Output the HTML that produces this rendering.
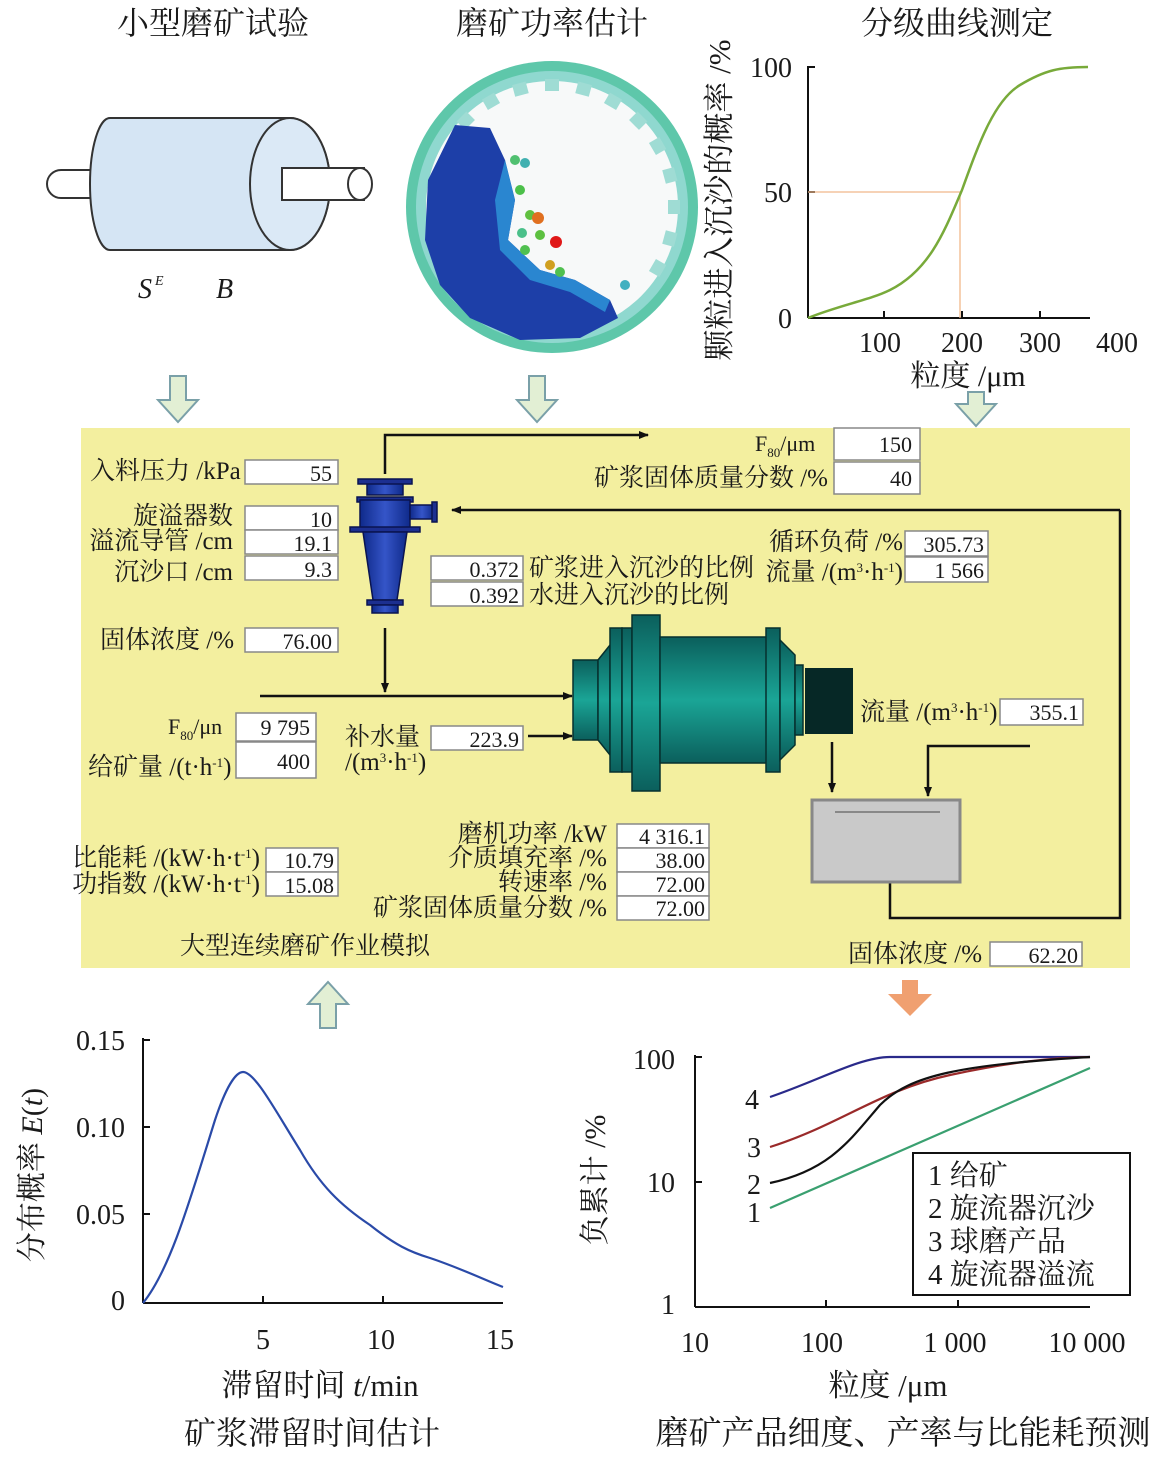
<!DOCTYPE html>
<html><head><meta charset="utf-8"><style>
html,body{margin:0;padding:0;background:#fff}
svg{display:block}
text{font-family:"Liberation Serif","Noto Serif CJK SC",serif;fill:#1a1a1a}
.b{fill:#fff;stroke:#888;stroke-width:1.5}
.L{font-size:25px}
.T{font-size:32px}
</style></head><body>
<svg width="1167" height="1457" viewBox="0 0 1167 1457" xmlns="http://www.w3.org/2000/svg">
<defs>
<marker id="ar" markerWidth="10" markerHeight="8" refX="9" refY="4" orient="auto" markerUnits="userSpaceOnUse"><path d="M0,0 L10,4 L0,8 z" fill="#111"/></marker>
<linearGradient id="tg" x1="0" y1="0" x2="0" y2="1"><stop offset="0" stop-color="#0b5f5c"/><stop offset=".5" stop-color="#1aa596"/><stop offset="1" stop-color="#0b5f5c"/></linearGradient>
<linearGradient id="bg" x1="0" y1="0" x2="1" y2="0"><stop offset="0" stop-color="#0f2a8a"/><stop offset=".5" stop-color="#3555c8"/><stop offset="1" stop-color="#0f2a8a"/></linearGradient>
</defs>
<!-- titles -->
<text x="213" y="34" class="T" text-anchor="middle">小型磨矿试验</text>
<text x="552" y="34" class="T" text-anchor="middle">磨矿功率估计</text>
<text x="957" y="34" class="T" text-anchor="middle">分级曲线测定</text>

<!-- small mill -->
<rect x="47" y="170" width="60" height="28" rx="14" fill="#fff" stroke="#333" stroke-width="2"/>
<path d="M110,118 L290,118 A40,66 0 0 1 290,250 L110,250 A20,66 0 0 1 110,118 z" fill="#d5e5f4" stroke="#333" stroke-width="2"/>
<ellipse cx="290" cy="184" rx="40" ry="66" fill="#dbe9f6" stroke="#333" stroke-width="2"/>
<rect x="282" y="168" width="82" height="32" fill="#fff" stroke="#333" stroke-width="2"/>
<ellipse cx="360" cy="184" rx="12" ry="16" fill="#fff" stroke="#333" stroke-width="2"/>
<text x="138" y="298" font-size="28" font-style="italic">S</text><text x="155" y="285" font-size="14" font-style="italic">E</text>
<text x="216" y="298" font-size="28" font-style="italic">B</text>

<!-- DEM mill -->
<circle cx="552" cy="207" r="146" fill="#5ec7aa"/>
<circle cx="552" cy="207" r="136" fill="#8fd8cf"/>
<circle cx="552" cy="207" r="126" fill="#f7f9f9"/>
<g fill="#9fdcd4">
<rect x="545" y="79" width="14" height="12" transform="rotate(0 552 207)"/>
<rect x="545" y="79" width="14" height="12" transform="rotate(15 552 207)"/>
<rect x="545" y="79" width="14" height="12" transform="rotate(30 552 207)"/>
<rect x="545" y="79" width="14" height="12" transform="rotate(45 552 207)"/>
<rect x="545" y="79" width="14" height="12" transform="rotate(60 552 207)"/>
<rect x="545" y="79" width="14" height="12" transform="rotate(75 552 207)"/>
<rect x="545" y="79" width="14" height="12" transform="rotate(90 552 207)"/>
<rect x="545" y="79" width="14" height="12" transform="rotate(105 552 207)"/>
<rect x="545" y="79" width="14" height="12" transform="rotate(120 552 207)"/>
<rect x="545" y="79" width="14" height="12" transform="rotate(-15 552 207)"/>
<rect x="545" y="79" width="14" height="12" transform="rotate(-30 552 207)"/>
<rect x="545" y="79" width="14" height="12" transform="rotate(-45 552 207)"/>
</g>
<path d="M455,125 L490,128 L505,160 L515,200 L508,240 L540,270 L575,280 L610,300 L618,318 L580,338 L520,340 L470,318 L440,285 L425,240 L428,180 Z" fill="#1d3fa8"/>
<path d="M505,160 L515,200 L508,240 L540,270 L575,280 L610,300 L605,312 L570,292 L530,280 L500,250 L495,200 Z" fill="#2a86d0"/>
<g>
<circle cx="520" cy="190" r="5" fill="#4cc04a"/><circle cx="530" cy="215" r="5" fill="#60c040"/>
<circle cx="538" cy="218" r="6" fill="#e07020"/><circle cx="556" cy="242" r="6" fill="#e01818"/>
<circle cx="540" cy="235" r="5" fill="#5cc040"/><circle cx="550" cy="265" r="5" fill="#d0a020"/>
<circle cx="525" cy="250" r="5" fill="#50c050"/><circle cx="515" cy="160" r="5" fill="#50c070"/>
<circle cx="525" cy="163" r="5" fill="#40b0b0"/><circle cx="625" cy="285" r="5" fill="#40b0c0"/>
<circle cx="560" cy="272" r="5" fill="#50c050"/><circle cx="522" cy="233" r="5" fill="#4ac08a"/>
</g>

<!-- classification curve -->
<line x1="808" y1="66" x2="808" y2="318" stroke="#111" stroke-width="2"/>
<line x1="808" y1="318" x2="1090" y2="318" stroke="#111" stroke-width="2"/>
<g stroke="#111" stroke-width="2"><line x1="808" y1="67" x2="815" y2="67"/><line x1="808" y1="192" x2="815" y2="192"/><line x1="884" y1="318" x2="884" y2="311"/><line x1="962" y1="318" x2="962" y2="311"/><line x1="1040" y1="318" x2="1040" y2="311"/></g>
<polyline points="808,192 960,192 960,318" fill="none" stroke="#f0b88a" stroke-width="1.3"/>
<path d="M808,318 C840,305 870,300 890,290 C930,270 945,230 962,190 C980,140 995,100 1020,85 C1045,70 1060,67 1088,67" fill="none" stroke="#78aa3a" stroke-width="2.5"/>
<text x="792" y="77" font-size="28" text-anchor="end">100</text>
<text x="792" y="202" font-size="28" text-anchor="end">50</text>
<text x="792" y="328" font-size="28" text-anchor="end">0</text>
<text x="880" y="352" font-size="28" text-anchor="middle">100</text>
<text x="962" y="352" font-size="28" text-anchor="middle">200</text>
<text x="1040" y="352" font-size="28" text-anchor="middle">300</text>
<text x="1117" y="352" font-size="28" text-anchor="middle">400</text>
<text x="968" y="386" font-size="30" text-anchor="middle">粒度 /μm</text>
<text transform="translate(730,200) rotate(-90)" font-size="31" text-anchor="middle">颗粒进入沉沙的概率 /%</text>

<!-- hollow arrows -->
<g fill="#e2efd4" stroke="#7aa0a8" stroke-width="2">
<path d="M170,376 h16 v24 h12 l-20,22 l-20,-22 h12 z"/>
<path d="M529,376 h16 v24 h12 l-20,22 l-20,-22 h12 z"/>
<path d="M968,392 h16 v12 h12 l-20,22 l-20,-22 h12 z"/>
<path d="M320,1028 h16 v-24 h12 l-20,-22 l-20,22 h12 z"/>
</g>
<path d="M902,980 h16 v14 h14 l-22,22 l-22,-22 h14 z" fill="#f0a070"/>

<!-- panel -->
<rect x="81" y="428" width="1049" height="540" fill="#f3ef9f"/>
<g font-size="22">
<text x="90" y="479" class="L">入料压力 /kPa</text>
<rect class="b" x="245" y="460" width="93" height="24"/><text x="332" y="481" text-anchor="end">55</text>
<text x="233" y="524" text-anchor="end" class="L">旋溢器数</text>
<text x="233" y="549" text-anchor="end" class="L">溢流导管 /cm</text>
<text x="233" y="580" text-anchor="end" class="L">沉沙口 /cm</text>
<rect class="b" x="245" y="506" width="93" height="24"/><text x="332" y="527" text-anchor="end">10</text>
<rect class="b" x="245" y="530" width="93" height="24"/><text x="332" y="551" text-anchor="end">19.1</text>
<rect class="b" x="245" y="556" width="93" height="24"/><text x="332" y="577" text-anchor="end">9.3</text>
<text x="100" y="648" class="L">固体浓度 /%</text>
<rect class="b" x="245" y="628" width="93" height="24"/><text x="332" y="649" text-anchor="end">76.00</text>
<text x="755" y="451">F<tspan font-size="13" dy="6">80</tspan><tspan dy="-6">/μm</tspan></text>
<rect class="b" x="834" y="428" width="86" height="32"/><text x="912" y="452" text-anchor="end">150</text>
<text x="828" y="486" text-anchor="end" class="L">矿浆固体质量分数 /%</text>
<rect class="b" x="834" y="462" width="86" height="32"/><text x="912" y="486" text-anchor="end">40</text>
<rect class="b" x="431" y="556" width="92" height="24"/><text x="519" y="577" text-anchor="end">0.372</text>
<rect class="b" x="431" y="582" width="92" height="24"/><text x="519" y="603" text-anchor="end">0.392</text>
<text x="529" y="576" class="L">矿浆进入沉沙的比例</text>
<text x="529" y="603" class="L">水进入沉沙的比例</text>
<text x="903" y="550" text-anchor="end" class="L">循环负荷 /%</text>
<text x="903" y="580" text-anchor="end" class="L">流量 /(m<tspan font-size="13" dy="-8">3</tspan><tspan dy="8">·h</tspan><tspan font-size="13" dy="-8">-1</tspan><tspan dy="8">)</tspan></text>
<rect class="b" x="905" y="531" width="83" height="25"/><text x="984" y="552" text-anchor="end">305.73</text>
<rect class="b" x="905" y="557" width="83" height="25"/><text x="984" y="578" text-anchor="end">1 566</text>
<text x="168" y="734">F<tspan font-size="13" dy="6">80</tspan><tspan dy="-6">/μn</tspan></text>
<rect class="b" x="236" y="713" width="80" height="28"/><text x="310" y="735" text-anchor="end">9 795</text>
<text x="88" y="775" class="L">给矿量 /(t·h<tspan font-size="13" dy="-8">-1</tspan><tspan dy="8">)</tspan></text>
<rect class="b" x="236" y="742" width="80" height="36"/><text x="310" y="769" text-anchor="end">400</text>
<text x="345" y="745" class="L">补水量</text>
<text x="345" y="770" class="L">/(m<tspan font-size="13" dy="-8">3</tspan><tspan dy="8">·h</tspan><tspan font-size="13" dy="-8">-1</tspan><tspan dy="8">)</tspan></text>
<rect class="b" x="431" y="726" width="92" height="24"/><text x="519" y="747" text-anchor="end">223.9</text>
<text x="860" y="720" class="L">流量 /(m<tspan font-size="13" dy="-8">3</tspan><tspan dy="8">·h</tspan><tspan font-size="13" dy="-8">-1</tspan><tspan dy="8">)</tspan></text>
<rect class="b" x="1000" y="699" width="83" height="26"/><text x="1079" y="720" text-anchor="end">355.1</text>
<text x="260" y="866" text-anchor="end" class="L">比能耗 /(kW·h·t<tspan font-size="13" dy="-8">-1</tspan><tspan dy="8">)</tspan></text>
<text x="260" y="892" text-anchor="end" class="L">功指数 /(kW·h·t<tspan font-size="13" dy="-8">-1</tspan><tspan dy="8">)</tspan></text>
<rect class="b" x="266" y="848" width="72" height="24"/><text x="334" y="868" text-anchor="end">10.79</text>
<rect class="b" x="266" y="872" width="72" height="24"/><text x="334" y="893" text-anchor="end">15.08</text>
<text x="607" y="842" text-anchor="end" class="L">磨机功率 /kW</text>
<text x="607" y="866" text-anchor="end" class="L">介质填充率 /%</text>
<text x="607" y="890" text-anchor="end" class="L">转速率 /%</text>
<text x="607" y="916" text-anchor="end" class="L">矿浆固体质量分数 /%</text>
<rect class="b" x="617" y="824" width="92" height="24"/><text x="705" y="844" text-anchor="end">4 316.1</text>
<rect class="b" x="617" y="848" width="92" height="24"/><text x="705" y="868" text-anchor="end">38.00</text>
<rect class="b" x="617" y="872" width="92" height="24"/><text x="705" y="892" text-anchor="end">72.00</text>
<rect class="b" x="617" y="896" width="92" height="24"/><text x="705" y="916" text-anchor="end">72.00</text>
<text x="180" y="954" class="L">大型连续磨矿作业模拟</text>
<text x="848" y="962" class="L">固体浓度 /%</text>
<rect class="b" x="990" y="942" width="92" height="24"/><text x="1078" y="963" text-anchor="end">62.20</text>
</g>
<!-- flow lines -->
<g stroke="#111" stroke-width="2.5" fill="none">
<polyline points="385,474 385,435 648,435" marker-end="url(#ar)"/>
<polyline points="1120,510 1120,918 890,918 890,882"/>
<line x1="1120" y1="510" x2="452" y2="510" marker-end="url(#ar)"/>
<line x1="385" y1="628" x2="385" y2="692" marker-end="url(#ar)"/>
<line x1="260" y1="696" x2="572" y2="696" marker-end="url(#ar)"/>
<line x1="528" y1="736" x2="572" y2="736" marker-end="url(#ar)"/>
<line x1="832" y1="742" x2="832" y2="792" marker-end="url(#ar)"/>
<polyline points="1030,746 928,746 928,796" marker-end="url(#ar)"/>
</g>
<!-- cyclone -->
<g stroke="#0a1450" stroke-width="1.5">
<rect x="367" y="481" width="36" height="14" fill="url(#bg)"/>
<rect x="358" y="479" width="54" height="5" fill="#1c2f90"/>
<rect x="357" y="497" width="56" height="5" fill="#1c2f90"/>
<rect x="360" y="500" width="50" height="30" fill="url(#bg)"/>
<rect x="410" y="505" width="24" height="14" fill="url(#bg)"/>
<rect x="432" y="502" width="5" height="20" fill="#1c2f90"/>
<rect x="350" y="527" width="70" height="5" fill="#1c2f90"/>
<path d="M363,532 L407,532 L397,600 L373,600 Z" fill="url(#bg)"/>
<rect x="367" y="600" width="36" height="5" fill="#1c2f90"/>
<rect x="372" y="605" width="26" height="8" fill="url(#bg)"/>
</g>
<!-- ball mill -->
<g stroke="#06302e" stroke-width="1.5">
<rect x="573" y="660" width="25" height="80" fill="url(#tg)"/>
<path d="M598,660 L610,645 L610,755 L598,740 Z" fill="url(#tg)"/>
<rect x="610" y="628" width="12" height="144" fill="url(#tg)"/>
<rect x="622" y="628" width="10" height="144" fill="url(#tg)"/>
<rect x="632" y="615" width="28" height="176" fill="url(#tg)"/>
<rect x="660" y="637" width="110" height="126" fill="url(#tg)"/>
<rect x="766" y="628" width="14" height="144" fill="url(#tg)"/>
<path d="M780,640 L795,655 L795,745 L780,760 Z" fill="url(#tg)"/>
<rect x="795" y="665" width="8" height="70" fill="url(#tg)"/>
</g>
<rect x="805" y="668" width="48" height="66" fill="#062826"/>
<!-- sump -->
<rect x="812" y="800" width="148" height="82" fill="#c9c9c9" stroke="#888" stroke-width="3"/>
<line x1="835" y1="812" x2="940" y2="812" stroke="#888" stroke-width="2"/>

<!-- RTD chart -->
<line x1="143" y1="1038" x2="143" y2="1303" stroke="#111" stroke-width="2"/>
<line x1="143" y1="1303" x2="503" y2="1303" stroke="#111" stroke-width="2"/>
<g stroke="#111" stroke-width="2"><line x1="143" y1="1040" x2="150" y2="1040"/><line x1="143" y1="1127" x2="150" y2="1127"/><line x1="143" y1="1214" x2="150" y2="1214"/><line x1="263" y1="1303" x2="263" y2="1296"/><line x1="383" y1="1303" x2="383" y2="1296"/></g>
<path d="M143,1303 C170,1270 190,1200 215,1120 C225,1090 235,1072 243,1072 C255,1072 275,1110 300,1150 C320,1185 340,1205 370,1225 C395,1245 410,1252 430,1258 C460,1268 485,1280 503,1287" fill="none" stroke="#2a4aa8" stroke-width="2.2"/>
<g font-size="28">
<text x="125" y="1050" text-anchor="end">0.15</text>
<text x="125" y="1137" text-anchor="end">0.10</text>
<text x="125" y="1224" text-anchor="end">0.05</text>
<text x="125" y="1310" text-anchor="end">0</text>
<text x="263" y="1349" text-anchor="middle">5</text>
<text x="381" y="1349" text-anchor="middle">10</text>
<text x="500" y="1349" text-anchor="middle">15</text>
<text x="320" y="1396" text-anchor="middle" font-size="31">滞留时间 <tspan font-style="italic">t</tspan>/min</text>
<text x="312" y="1444" text-anchor="middle" font-size="32">矿浆滞留时间估计</text>
<text transform="translate(42,1175) rotate(-90)" text-anchor="middle" font-size="30">分布概率 <tspan font-style="italic">E</tspan>(<tspan font-style="italic">t</tspan>)</text>
</g>

<!-- product chart -->
<line x1="695" y1="1055" x2="695" y2="1307" stroke="#111" stroke-width="2"/>
<line x1="695" y1="1307" x2="1090" y2="1307" stroke="#111" stroke-width="2"/>
<g stroke="#111" stroke-width="2"><line x1="695" y1="1057" x2="702" y2="1057"/><line x1="695" y1="1182" x2="702" y2="1182"/><line x1="826" y1="1307" x2="826" y2="1300"/><line x1="958" y1="1307" x2="958" y2="1300"/></g>
<path d="M770,1097 C820,1080 860,1057 890,1057 L1090,1057" fill="none" stroke="#2a2a8a" stroke-width="2.2"/>
<path d="M770,1147 C840,1125 880,1090 950,1075 C1010,1062 1050,1058 1090,1057" fill="none" stroke="#9a2a2a" stroke-width="2.2"/>
<path d="M770,1183 C830,1170 850,1140 880,1105 C910,1075 960,1065 1090,1057" fill="none" stroke="#111" stroke-width="2.2"/>
<line x1="770" y1="1208" x2="1090" y2="1068" stroke="#3aa070" stroke-width="2.2"/>
<rect x="913" y="1153" width="217" height="142" fill="#fff" stroke="#111" stroke-width="2"/>
<g font-size="28">
<text x="752" y="1109" text-anchor="middle">4</text>
<text x="754" y="1157" text-anchor="middle">3</text>
<text x="754" y="1194" text-anchor="middle">2</text>
<text x="754" y="1222" text-anchor="middle">1</text>
<text x="928" y="1185" font-size="29">1 给矿</text>
<text x="928" y="1218" font-size="29">2 旋流器沉沙</text>
<text x="928" y="1251" font-size="29">3 球磨产品</text>
<text x="928" y="1284" font-size="29">4 旋流器溢流</text>
<text x="675" y="1069" text-anchor="end">100</text>
<text x="675" y="1192" text-anchor="end">10</text>
<text x="675" y="1314" text-anchor="end">1</text>
<text x="695" y="1352" text-anchor="middle">10</text>
<text x="822" y="1352" text-anchor="middle">100</text>
<text x="955" y="1352" text-anchor="middle">1 000</text>
<text x="1087" y="1352" text-anchor="middle">10 000</text>
<text x="888" y="1396" text-anchor="middle" font-size="31">粒度 /μm</text>
<text x="903" y="1444" text-anchor="middle" font-size="33">磨矿产品细度、产率与比能耗预测</text>
<text transform="translate(605,1180) rotate(-90)" text-anchor="middle" font-size="30">负累计 /%</text>
</g>
</svg>
</body></html>
